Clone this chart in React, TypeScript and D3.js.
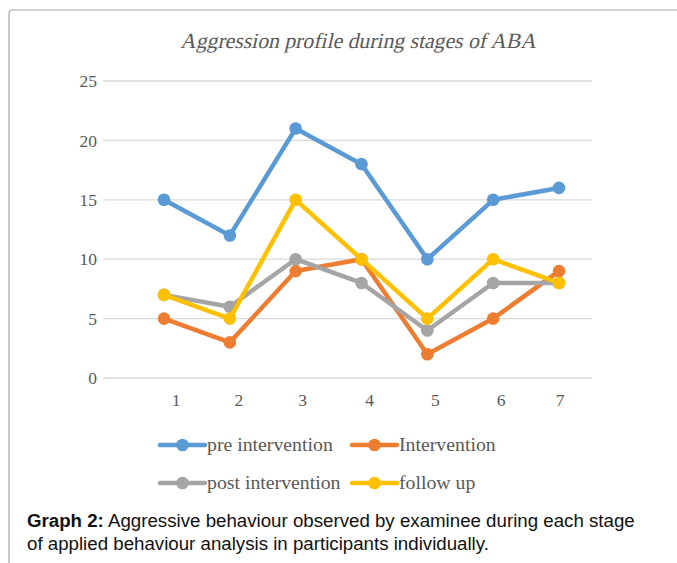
import React from "react";
import * as d3 from "d3";

const categories = ["1", "2", "3", "4", "5", "6", "7"];
const preIntervention = [15, 12, 21, 18, 10, 15, 16];
const intervention = [5, 3, 9, 10, 2, 5, 9];
const postIntervention = [7, 6, 10, 8, 4, 8, 8];
const followUp = [7, 5, 15, 10, 5, 10, 8];
const yTicks = [0, 5, 10, 15, 20, 25];
const seriesNames = ["pre intervention", "Intervention", "post intervention", "follow up"];
const seriesColors = ["#5B9BD5", "#ED7D31", "#A5A5A5", "#FFC000"];

const W = 677;
const H = 563;

export default function App() {
  const seriesData = [preIntervention, intervention, postIntervention, followUp];
  const x = d3.scalePoint<string>().domain(categories).range([164, 559]);
  const y = d3.scaleLinear().domain([0, 25]).range([378, 81]);
  const line = d3
    .line<number>()
    .x((_, i) => x(categories[i]) as number)
    .y((d) => y(d));
  const serif = "'Liberation Serif'";
  const sans = "'Liberation Sans', Arial, sans-serif";
  const grey = "#595959";
  const labelDx = [12, 9, 7, 8, 8, 8, 1];

  const legendPos = [
    [160, 445],
    [352, 445],
    [160, 483],
    [352, 483],
  ];

  return (
    <svg
      width={W}
      height={H}
      style={{ position: "absolute", left: 0, top: 0, background: "#fff" }}
    >
      <path
        d={`M9,${H} L9,14 Q9,10 13,10 L${W},10`}
        fill="none"
        stroke="#a6a6a6"
        strokeWidth={1.2}
      />
      <text
        transform="translate(358,48) skewX(-13)"
        x={0}
        y={0}
        textAnchor="middle"
        fontFamily={serif}
        fontSize={21.7}
        fill={grey}
      >
        Aggression profile during stages of ABA
      </text>
      {yTicks.map((t) => (
        <g key={t}>
          <line x1={103} x2={592} y1={y(t)} y2={y(t)} stroke="#d9d9d9" strokeWidth={1.3} />
          <text
            x={97}
            y={y(t)}
            dy="0.35em"
            textAnchor="end"
            fontFamily={serif}
            fontSize={17.5}
            fill={grey}
          >
            {t}
          </text>
        </g>
      ))}
      {categories.map((c, i) => (
        <text
          key={c}
          x={(x(c) as number) + labelDx[i]}
          y={406}
          textAnchor="middle"
          fontFamily={serif}
          fontSize={17.5}
          fill={grey}
        >
          {c}
        </text>
      ))}
      {seriesData.map((s, si) => (
        <g key={si}>
          <path
            d={line(s) || ""}
            fill="none"
            stroke={seriesColors[si]}
            strokeWidth={4.5}
            strokeLinejoin="round"
          />
          {s.map((v, i) => (
            <circle
              key={i}
              cx={x(categories[i]) as number}
              cy={y(v)}
              r={6.3}
              fill={seriesColors[si]}
            />
          ))}
        </g>
      ))}
      {seriesNames.map((n, si) => {
        const [lx, ly] = legendPos[si];
        return (
          <g key={n}>
            <line
              x1={lx}
              x2={lx + 45}
              y1={ly}
              y2={ly}
              stroke={seriesColors[si]}
              strokeWidth={4.5}
              strokeLinecap="round"
            />
            <circle cx={lx + 22.5} cy={ly} r={6.3} fill={seriesColors[si]} />
            <text
              x={lx + 47}
              y={ly}
              dy="0.32em"
              fontFamily={serif}
              fontSize={19.8}
              fill={grey}
            >
              {n}
            </text>
          </g>
        );
      })}
      <text x={27} y={527} fontFamily={sans} fontSize={18.7} fill="#111">
        <tspan fontWeight="bold">Graph 2:</tspan> Aggressive behaviour observed by examinee during each stage
      </text>
      <text x={27} y={550} fontFamily={sans} fontSize={18.7} fill="#111">
        of applied behaviour analysis in participants individually.
      </text>
    </svg>
  );
}
